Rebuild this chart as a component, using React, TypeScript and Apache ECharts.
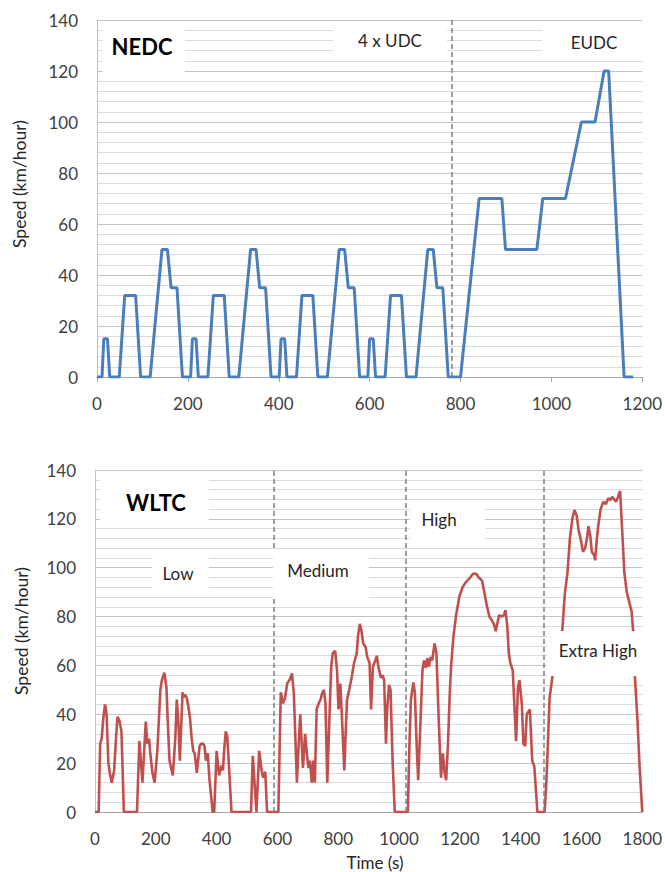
import React, { useEffect, useRef } from "react";
import * as echarts from "echarts";

// ---------- NEDC (time in s, speed in km/h) ----------
const nedcTime = [
  0, 11, 15, 23, 28, 49, 61, 85, 96, 117, 143, 155, 163, 176, 188,
  195, 206, 210, 218, 223, 244, 256, 280, 291, 312, 338, 350, 358, 371, 383,
  390, 401, 405, 413, 418, 439, 451, 475, 486, 507, 533, 545, 553, 566, 578,
  585, 596, 600, 608, 613, 634, 646, 670, 681, 702, 728, 740, 748, 761, 773,
  780, 800, 841, 891, 899, 968, 981, 1031, 1066, 1096, 1116, 1126, 1160, 1180,
];
const nedcSpeed = [
  0, 0, 15, 15, 0, 0, 32, 32, 0, 0, 50, 50, 35, 35, 0,
  0, 0, 15, 15, 0, 0, 32, 32, 0, 0, 50, 50, 35, 35, 0,
  0, 0, 15, 15, 0, 0, 32, 32, 0, 0, 50, 50, 35, 35, 0,
  0, 0, 15, 15, 0, 0, 32, 32, 0, 0, 50, 50, 35, 35, 0,
  0, 0, 70, 70, 50, 50, 70, 70, 100, 100, 120, 120, 0, 0,
];
const nedcPhaseEnd = [780];

// ---------- WLTC (time in s, speed in km/h) ----------
const wltcTime = [
  0, 12, 17, 22, 27, 33, 38, 44, 50, 55, 63, 69, 74, 81, 87, 95, 138,
  146, 156, 167, 172, 178, 181, 189, 196, 205, 215, 220, 228, 235, 240, 245,
  256, 264, 269, 274, 279, 288, 292, 296, 301, 306, 312, 318, 323, 328, 335,
  344, 350, 355, 360, 365, 371, 376, 387, 392, 400, 408, 416, 421, 424, 430,
  435, 440, 449, 513, 519, 531, 540, 548, 553, 560, 566, 603,
  611, 618, 625, 632, 640, 648, 654, 664, 670, 675, 684, 691, 696, 702, 707,
  713, 718, 723, 729, 736, 743, 747, 753, 758, 764, 772, 777, 782, 790, 796,
  801, 807, 811, 820, 825, 829, 836, 844, 852, 861, 865, 871, 876, 882, 890,
  895, 903, 908, 914, 922, 927, 932, 940, 946, 951, 957, 961, 967, 972, 979,
  986, 1029,
  1034, 1039, 1047, 1052, 1058, 1063, 1069, 1077, 1082, 1088, 1093, 1098, 1104,
  1109, 1117, 1123, 1131, 1138, 1144, 1150, 1155, 1161, 1166, 1171, 1179, 1187,
  1198, 1209, 1219, 1227, 1234, 1243, 1254, 1262, 1273, 1281, 1288, 1297, 1305,
  1313, 1318, 1323, 1329, 1337, 1345, 1350, 1356, 1361, 1366, 1374, 1380, 1385,
  1391, 1396, 1404, 1409, 1415, 1420, 1425, 1430, 1434, 1438, 1445, 1455, 1479,
  1484, 1489, 1495, 1505, 1537, 1545, 1554, 1562, 1570, 1577, 1584, 1591, 1597,
  1605, 1612, 1618, 1623, 1629, 1634, 1642, 1645, 1650, 1655, 1663, 1672, 1680,
  1688, 1695, 1701, 1709, 1714, 1720, 1727, 1734, 1741, 1749, 1757, 1765, 1770,
  1776, 1784, 1791, 1800,
];
const wltcSpeed = [
  0, 0, 28, 30, 38, 44, 40, 20, 15, 12, 17, 30, 39, 37, 33, 0, 0,
  29, 12, 37, 28, 30, 25, 16, 12, 25, 50, 54, 57, 51, 35, 21,
  15, 30, 46, 37, 21, 49, 47, 48, 47, 44, 39, 30, 25, 24, 16,
  27, 28, 28, 27, 21, 24, 14, 0, 0, 25, 15, 19, 17, 24, 33,
  31, 20, 0, 0, 23, 0, 25, 17, 14, 16.5, 0, 0,
  49, 44.5, 46.5, 52.6, 54, 56.7, 48.6, 12, 28, 40, 18, 32, 25, 18, 21,
  12, 21, 12, 42, 44.5, 46.5, 48.6, 50, 44.5, 12, 42, 59.5, 65, 66, 58,
  42, 52.6, 42, 17, 34, 46, 50, 55, 61, 65, 72, 77, 74.5, 69, 67.6,
  63.6, 61, 42, 59.5, 62, 64, 59.5, 55, 56, 54, 28, 42, 52, 50, 20,
  0, 0,
  27, 46, 53, 49, 27, 13, 32, 58, 62, 59, 63, 59.5, 63.5,
  62, 69, 65, 36, 14, 24, 16, 13, 28, 46, 59.5, 72, 80,
  88, 92, 94, 95, 96, 97.5, 97.5, 96, 94.7, 89.5, 85, 80, 78.6,
  76.5, 74, 77, 80.6, 80, 80.6, 82.6, 76, 65, 61, 58, 42, 29,
  51, 54, 44, 28, 27, 40, 41, 42, 32, 21, 18.6, 0, 0,
  11, 26, 46.5, 56, 74.5, 89, 98, 112, 120, 123.6, 121.5, 115, 112,
  106.5, 108, 112, 117, 113, 106.5, 105, 103, 111, 117, 124, 127, 126,
  128.4, 127.7, 129, 127.7, 127, 129, 131.4, 115, 98, 90, 86, 82, 74,
  55, 38, 19, 0,
];
const wltcPhaseEnd = [589, 1022, 1477];

const nedcXTicks = [0, 200, 400, 600, 800, 1000, 1200];
const wltcXTicks = [0, 200, 400, 600, 800, 1000, 1200, 1400, 1600, 1800];
const speedTicks = [0, 20, 40, 60, 80, 100, 120, 140];

const FONT = "Lato, 'Open Sans', sans-serif";
const LABEL = "#404040";

function pairs(t: number[], v: number[]) {
  return t.map((x, i) => [x, v[i]]);
}

function xAxisFor(gridIndex: number, ticks: number[], showTicks: boolean) {
  return {
    type: "value",
    gridIndex,
    min: ticks[0],
    max: ticks[ticks.length - 1],
    interval: ticks[1] - ticks[0],
    axisLine: { show: true, onZero: false, lineStyle: { color: "#a6a6a6", width: 1 } },
    axisTick: { show: showTicks, length: 5, lineStyle: { color: "#a6a6a6" } },
    axisLabel: {
      fontSize: 17,
      fontFamily: FONT,
      color: LABEL,
      margin: 18,
      showMaxLabel: true,
      formatter: (v: number) => String(v),
    },
    splitLine: { show: false },
  };
}

function yAxisFor(gridIndex: number) {
  return {
    type: "value",
    gridIndex,
    min: speedTicks[0],
    max: speedTicks[speedTicks.length - 1],
    interval: speedTicks[1] - speedTicks[0],
    axisLine: { show: true, lineStyle: { color: "#bfbfbf", width: 1 } },
    axisTick: { show: false },
    axisLabel: { fontSize: 17, fontFamily: FONT, color: LABEL, margin: 19 },
    splitLine: { show: true, lineStyle: { color: "#c4c4c4", width: 1 } },
    minorTick: { show: false, splitNumber: 5 },
    minorSplitLine: { show: true, lineStyle: { color: "#dadada", width: 1 } },
  };
}

function box(x: number, y: number, w: number, h: number) {
  return {
    type: "rect",
    z: 100,
    shape: { x, y, width: w, height: h },
    style: { fill: "#ffffff" },
    silent: true,
  };
}

function label(text: string, x: number, y: number, size: number, bold = false, rotation = 0) {
  return {
    type: "text",
    z: 101,
    x,
    y,
    rotation,
    silent: true,
    style: {
      text,
      fontSize: size,
      fontFamily: FONT,
      fontWeight: bold ? "bold" : "normal",
      fill: bold ? "#000000" : "#262626",
      align: "center",
      verticalAlign: "middle",
    },
  };
}

function dashed(values: number[]) {
  return {
    silent: true,
    symbol: ["none", "none"],
    label: { show: false },
    lineStyle: { color: "#7f7f7f", type: [5, 3], width: 1.5 },
    data: values.map((v) => ({ xAxis: v })),
  };
}

export default function App() {
  const ref = useRef<HTMLDivElement>(null);

  useEffect(() => {
    if (!ref.current) return;
    const chart = echarts.init(ref.current, undefined, { renderer: "svg" });
    chart.setOption({
      animation: false,
      backgroundColor: "#ffffff",
      grid: [
        { left: 97, right: 20, top: 20, height: 357 },
        { left: 95, right: 10, top: 470, height: 342 },
      ],
      xAxis: [xAxisFor(0, nedcXTicks, true), xAxisFor(1, wltcXTicks, false)],
      yAxis: [yAxisFor(0), yAxisFor(1)],
      series: [
        {
          type: "line",
          xAxisIndex: 0,
          yAxisIndex: 0,
          data: pairs(nedcTime, nedcSpeed),
          showSymbol: false,
          lineStyle: { color: "#4a7ebb", width: 3 },
          itemStyle: { color: "#4a7ebb" },
          markLine: dashed(nedcPhaseEnd),
        },
        {
          type: "line",
          xAxisIndex: 1,
          yAxisIndex: 1,
          data: pairs(wltcTime, wltcSpeed),
          showSymbol: false,
          lineStyle: { color: "#c0504d", width: 2.6 },
          itemStyle: { color: "#c0504d" },
          markLine: dashed(wltcPhaseEnd),
        },
      ],
      graphic: [
        // NEDC annotation boxes
        box(103, 22, 82, 54),
        box(333, 22, 114, 34),
        box(542, 22, 103, 34),
        label("NEDC", 142, 46, 22, true),
        label("4 x UDC", 390, 40, 17),
        label("EUDC", 594, 42, 17),
        // WLTC annotation boxes
        box(100, 472, 109, 51),
        box(152, 551, 57, 41),
        box(273, 549, 96, 50),
        box(410, 501, 75, 46),
        box(547, 631, 108, 45),
        label("WLTC", 156, 502, 22, true),
        label("Low", 178, 573, 17),
        label("Medium", 318, 570, 17),
        label("High", 439, 519, 17),
        label("Extra High", 598, 650, 17),
        // axis titles
        label("Speed (km/hour)", 19, 184, 17.5, false, Math.PI / 2),
        label("Speed (km/hour)", 21, 631, 17.5, false, Math.PI / 2),
        label("Time (s)", 375, 862, 17),
      ],
    });
    return () => chart.dispose();
  }, []);

  return (
    <div
      ref={ref}
      style={{ position: "fixed", left: 0, top: 0, width: 665, height: 872, background: "#fff" }}
    />
  );
}
